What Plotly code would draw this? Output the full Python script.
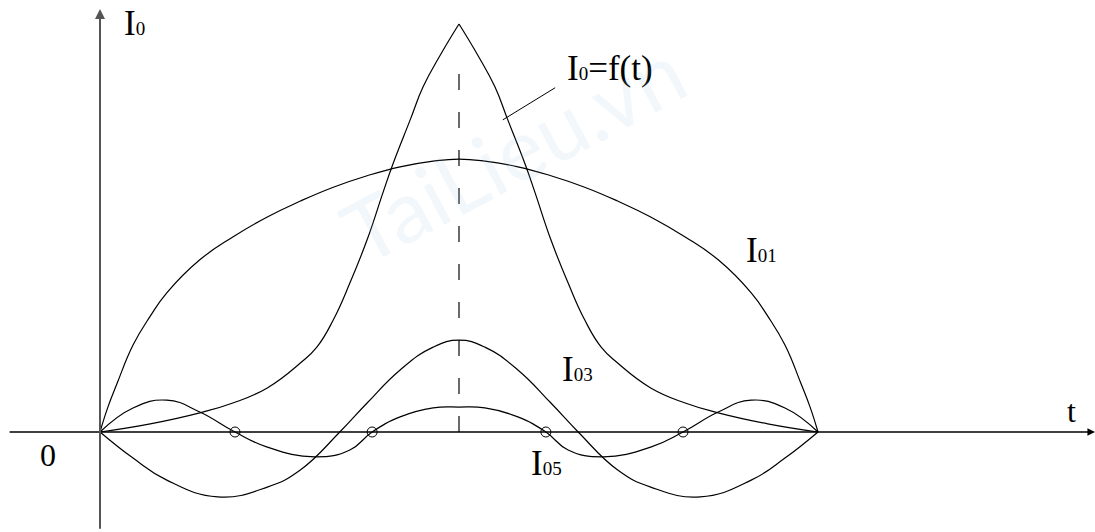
import plotly.graph_objects as go

# Time axis samples (t from 0 to 10, symmetric about t = 5) and intensities
t_f_left = [0, 0.70, 1.39, 1.85, 2.33, 2.79, 3.02, 3.25, 3.48, 3.72, 3.94, 4.08, 4.32, 4.50, 4.74, 5.0]
i_f_left = [0, 0.20, 0.47, 0.71, 1.08, 1.69, 2.08, 2.75, 3.65, 4.71, 5.86, 6.57, 7.65, 8.46, 9.24, 10.0]
t_f_right = [5.0, 5.26, 5.50, 5.68, 5.92, 6.06, 6.28, 6.52, 6.75, 6.98, 7.21, 7.67, 8.15, 8.61, 9.30, 10.0]
i_f_right = [10.0, 9.24, 8.46, 7.65, 6.57, 5.86, 4.71, 3.65, 2.75, 2.08, 1.69, 1.08, 0.71, 0.47, 0.20, 0]

t_01 = [0, 0.11, 0.24, 0.46, 0.70, 0.93, 1.39, 1.85, 2.33, 2.79, 3.25, 3.72, 4.18, 4.64, 5.0,
        5.36, 5.82, 6.28, 6.75, 7.21, 7.67, 8.15, 8.61, 9.07, 9.30, 9.54, 9.76, 9.89, 10.0]
i_01 = [0, 0.61, 1.20, 2.13, 2.84, 3.41, 4.22, 4.78, 5.27, 5.66, 6.00, 6.28, 6.50, 6.64, 6.69,
        6.64, 6.50, 6.28, 6.00, 5.66, 5.27, 4.78, 4.22, 3.41, 2.84, 2.13, 1.20, 0.61, 0]

t_03 = [0, 0.46, 0.93, 1.64, 2.33, 2.79, 3.34, 3.72, 4.18, 4.64, 5.0,
        5.36, 5.82, 6.28, 6.66, 7.21, 7.67, 8.36, 9.07, 9.54, 10.0]
i_03 = [0, -0.64, -1.18, -1.59, -1.35, -0.93, 0, 0.71, 1.52, 2.08, 2.25,
        2.08, 1.52, 0.71, 0, -0.93, -1.35, -1.59, -1.18, -0.64, 0]

t_05 = [0, 0.46, 0.93, 1.39, 1.88, 2.33, 2.99, 3.48, 3.79, 4.18, 4.64, 5.0,
        5.36, 5.82, 6.21, 6.52, 7.01, 7.67, 8.12, 8.61, 9.07, 9.54, 10.0]
i_05 = [0, 0.59, 0.78, 0.49, 0, -0.37, -0.61, -0.44, 0, 0.37, 0.59, 0.61,
        0.59, 0.37, 0, -0.44, -0.61, -0.37, 0, 0.49, 0.78, 0.59, 0]

# Zero crossings of the fifth harmonic, marked with small rings
t_nodes = [1.88, 3.79, 6.21, 8.12]
i_nodes = [0, 0, 0, 0]

# Symmetry line through the pulse peak
t_mid = [5.0, 5.0]
i_mid = [0, 8.82]

SERIF = "Liberation Serif, Times New Roman, serif"
curve = dict(color="black", width=1.2, shape="spline", smoothing=1.3)

fig = go.Figure()

fig.add_trace(go.Scatter(x=t_mid, y=i_mid, mode="lines",
                         line=dict(color="#6a6a6a", width=2, dash="16px,22px")))
for tx, iy in [(t_f_left, i_f_left), (t_f_right, i_f_right),
               (t_01, i_01), (t_03, i_03), (t_05, i_05)]:
    fig.add_trace(go.Scatter(x=tx, y=iy, mode="lines", line=curve))
fig.add_trace(go.Scatter(x=t_nodes, y=i_nodes, mode="markers",
                         marker=dict(symbol="circle-open", size=10, color="black",
                                     line=dict(width=1))))

annotations = []
# Axes drawn as arrows
annotations.append(dict(x=13.86, y=0, ax=-1.28, ay=0, xref="x", yref="y", axref="x", ayref="y",
                        text="", showarrow=True, arrowhead=2, arrowsize=1.1, arrowwidth=1.4,
                        arrowcolor="black"))
annotations.append(dict(x=0, y=10.37, ax=0, ay=-2.41, xref="x", yref="y", axref="x", ayref="y",
                        text="", showarrow=True, arrowhead=2, arrowsize=1.0, arrowwidth=2,
                        arrowcolor="#555555"))
# Leader line for the pulse label
annotations.append(dict(x=5.61, y=7.65, ax=6.36, ay=8.46, xref="x", yref="y", axref="x", ayref="y",
                        text="", showarrow=True, arrowhead=0, arrowwidth=1, arrowcolor="black"))


def label(x, y, main, sub="", rest=""):
    txt = main
    if sub:
        txt += f"<span style='font-size:19px'>{sub}</span>"
    txt += rest
    annotations.append(dict(x=x, y=y, xref="x", yref="y", text=txt, showarrow=False,
                            xanchor="left", yanchor="middle",
                            font=dict(family=SERIF, size=35, color="black")))


label(0.30, 10.02, "I", "0")
label(6.47, 8.92, "I", "0", "=f(t)")
label(8.97, 4.44, "I", "01")
label(6.40, 1.54, "I", "03")
label(5.97, -0.78, "I", "05")

annotations.append(dict(x=13.44, y=0.51, xref="x", yref="y", text="t", showarrow=False,
                        xanchor="left", yanchor="middle",
                        font=dict(family=SERIF, size=32, color="black")))
annotations.append(dict(x=-0.72, y=-0.56, xref="x", yref="y", text="0", showarrow=False,
                        xanchor="center", yanchor="middle",
                        font=dict(family=SERIF, size=32, color="black")))

# Faint publisher mark behind the curves
annotations.append(dict(x=5.75, y=6.9, xref="x", yref="y", text="TaiLieu.vn", showarrow=False,
                        textangle=-28, font=dict(family="Lato, sans-serif", size=86,
                                                 color="rgba(150,190,225,0.12)")))

fig.update_layout(
    width=1095, height=532, autosize=False,
    margin=dict(l=0, r=0, t=0, b=0),
    paper_bgcolor="white", plot_bgcolor="white",
    showlegend=False,
    xaxis=dict(range=[-1.3928, 13.858], visible=False, fixedrange=True),
    yaxis=dict(range=[-2.451, 10.588], visible=False, fixedrange=True),
    annotations=annotations,
)

fig.write_html("out.html")
